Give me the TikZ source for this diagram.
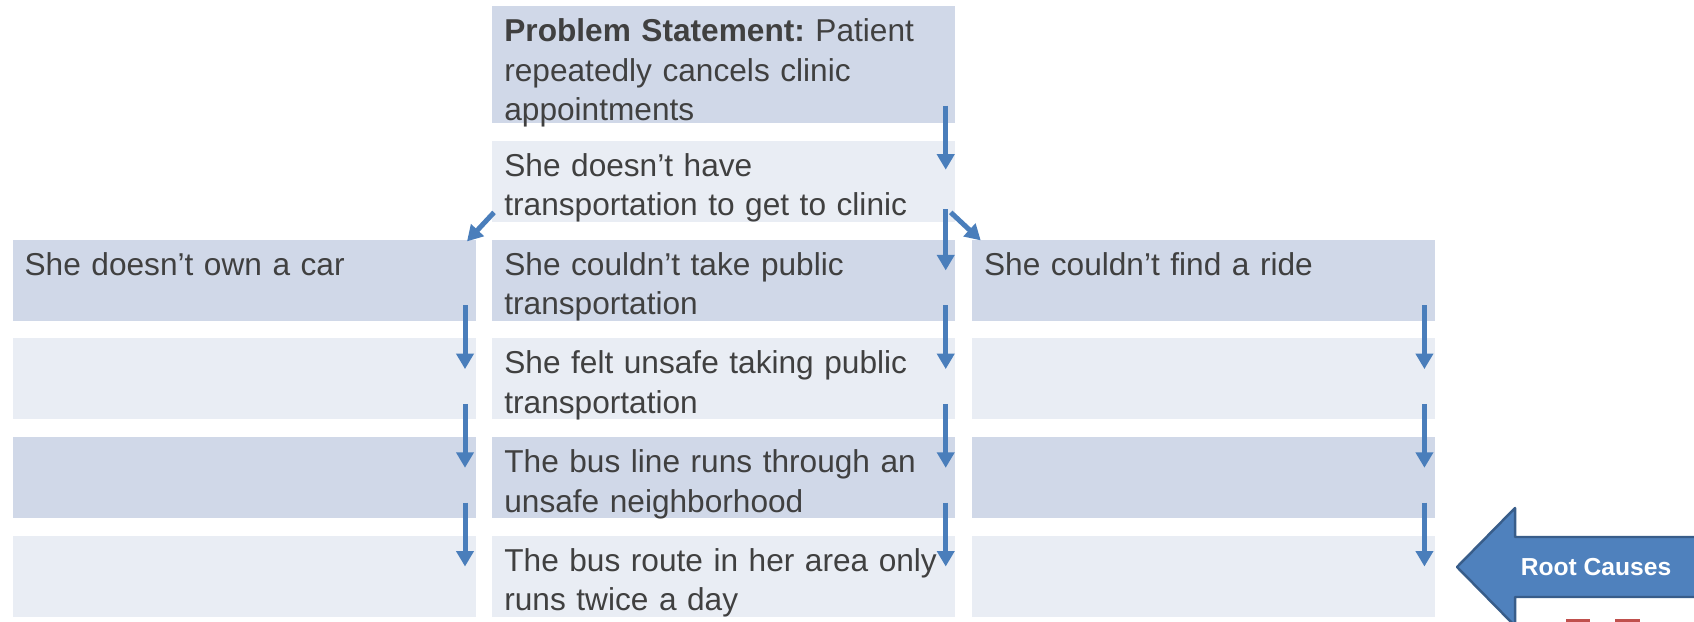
\documentclass[tikz,border=0pt]{standalone}
\usepackage{fontspec}
\setmainfont{Liberation Sans}
\usetikzlibrary{arrows.meta,positioning}
\frenchspacing

\definecolor{banddark}{HTML}{D0D8E8}
\definecolor{bandlight}{HTML}{E9EDF4}
\definecolor{txtgray}{HTML}{404040}
\definecolor{arrblue}{HTML}{4A7EBB}
\definecolor{rootfill}{HTML}{4F81BD}
\definecolor{rootline}{HTML}{385D8A}
\definecolor{markred}{HTML}{C0504D}

\begin{document}
\begin{tikzpicture}[
    x=0.2mm, y=-0.2mm,
    node distance=3.4mm and 3.2mm,
    cell/.style={rectangle, align=left, text width=8.78cm, inner xsep=2.4mm, inner ysep=0pt,
      text height=7.1mm, text depth=9.1mm, text=txtgray, font=\fontsize{18}{22.4}\selectfont},
    dark/.style={cell, fill=banddark},
    light/.style={cell, fill=bandlight},
    arr/.style={draw=arrblue, line width=1mm, -{Triangle[width=3.4mm,length=3.1mm]}},
    rootarrow/.style={fill=rootfill, draw=rootline, line width=1.4pt, line join=round},
    rootlabel/.style={text=white, font=\fontsize{14}{16}\bfseries\selectfont}
  ]
    \useasboundingbox (0,0) rectangle (1694,622);

    % Problem statement and first why
    \node[dark, text depth=16.3mm, anchor=north west] (problem) at (492,6)
      {\textbf{Problem Statement:} Patient\\repeatedly cancels clinic\\appointments};
    \node[light, below=of problem] (transport) {She doesn’t have\\transportation to get to clinic};

    % Middle branch (public transport)
    \node[dark, below=of transport] (bus1) {She couldn’t take public\\transportation};
    \node[light, below=of bus1] (bus2) {She felt unsafe taking public\\transportation};
    \node[dark, below=of bus2] (bus3) {The bus line runs through an\\unsafe neighborhood};
    \node[light, below=of bus3] (bus4) {The bus route in her area only\\runs twice a day};

    % Left branch (car)
    \node[dark, left=of bus1] (car1) {She doesn’t own a car};
    \node[light, below=of car1] (car2) {};
    \node[dark, below=of car2] (car3) {};
    \node[light, below=of car3] (car4) {};

    % Right branch (ride)
    \node[dark, right=of bus1] (ride1) {She couldn’t find a ride};
    \node[light, below=of ride1] (ride2) {};
    \node[dark, below=of ride2] (ride3) {};
    \node[light, below=of ride3] (ride4) {};

    % Arrows down the middle
    \draw[arr] ([xshift=-2mm,yshift=3.6mm]problem.south east) -- ([xshift=-2mm,yshift=-5.8mm]transport.north east);
    \draw[arr] ([xshift=-2mm,yshift=2.6mm]transport.south east) -- ([xshift=-2mm,yshift=-6.2mm]bus1.north east);
    \draw[arr] ([xshift=-2mm,yshift=3.2mm]bus1.south east) -- ([xshift=-2mm,yshift=-6.2mm]bus2.north east);
    \draw[arr] ([xshift=-2mm,yshift=3.2mm]bus2.south east) -- ([xshift=-2mm,yshift=-6.2mm]bus3.north east);
    \draw[arr] ([xshift=-2mm,yshift=3.2mm]bus3.south east) -- ([xshift=-2mm,yshift=-6.2mm]bus4.north east);

    % Branching to the side columns
    \draw[arr] ([xshift=0.4mm,yshift=2mm]transport.south west) -- ([xshift=-1.8mm,yshift=-0.4mm]car1.north east);
    \draw[arr] ([xshift=-1mm,yshift=2mm]transport.south east) -- ([xshift=1.8mm,yshift=-0.2mm]ride1.north west);

    % Left column arrows
    \draw[arr] ([xshift=-2.2mm,yshift=3.2mm]car1.south east) -- ([xshift=-2.2mm,yshift=-6.2mm]car2.north east);
    \draw[arr] ([xshift=-2.2mm,yshift=3.2mm]car2.south east) -- ([xshift=-2.2mm,yshift=-6.2mm]car3.north east);
    \draw[arr] ([xshift=-2.2mm,yshift=3.2mm]car3.south east) -- ([xshift=-2.2mm,yshift=-6.2mm]car4.north east);

    % Right column arrows
    \draw[arr] ([xshift=-2.2mm,yshift=3.2mm]ride1.south east) -- ([xshift=-2.2mm,yshift=-6.2mm]ride2.north east);
    \draw[arr] ([xshift=-2.2mm,yshift=3.2mm]ride2.south east) -- ([xshift=-2.2mm,yshift=-6.2mm]ride3.north east);
    \draw[arr] ([xshift=-2.2mm,yshift=3.2mm]ride3.south east) -- ([xshift=-2.2mm,yshift=-6.2mm]ride4.north east);

    % Root causes marker, running off the right edge
    \draw[rootarrow] (1457,567) -- (1515,508) -- (1515,537) -- (1720,537) -- (1720,597)
      -- (1515,597) -- (1515,626) -- cycle;
    \node[rootlabel] (roots) at (1596,567) {Root Causes};
    \fill[markred] (1566,619) rectangle (1590,630);
    \fill[markred] (1615,619) rectangle (1640,630);
\end{tikzpicture}
\end{document}
